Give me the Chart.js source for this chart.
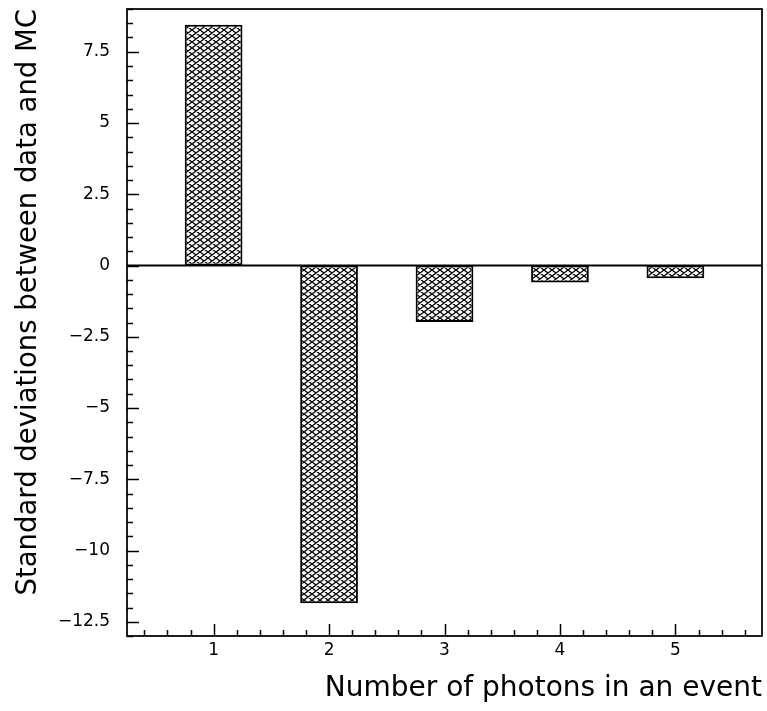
<!DOCTYPE html>
<html>
<head>
<meta charset="utf-8">
<script src="https://cdn.jsdelivr.net/npm/chart.js@4/dist/chart.umd.min.js"></script>
<style>
  body { margin: 0; background: #fff; }
  #wrap { width: 767px; height: 711px; }
</style>
</head>
<body>
<div id="wrap"><canvas id="devChart" width="767" height="711"></canvas></div>
<script>
// photon multiplicity and deviation (data - MC) in standard deviations
const photons = [1, 2, 3, 4, 5];
const deviations = [8.45, -11.85, -1.98, -0.6, -0.45];
const yTicks = [-12.5, -10, -7.5, -5, -2.5, 0, 2.5, 5, 7.5];
const xTicks = [1, 2, 3, 4, 5];

// cross hatch fill like the ROOT style
function hatch() {
  const c = document.createElement('canvas');
  c.width = 8; c.height = 6;
  const g = c.getContext('2d');
  g.fillStyle = '#fff';
  g.fillRect(0, 0, 8, 6);
  g.strokeStyle = '#000';
  g.lineWidth = 1.3;
  g.beginPath();
  for (let dx = -8; dx <= 8; dx += 8) {
    g.moveTo(dx, 0); g.lineTo(dx + 8, 6);
    g.moveTo(dx, 6); g.lineTo(dx + 8, 0);
  }
  g.stroke();
  return g.createPattern(c, 'repeat');
}

// frame, inner ticks and the zero line
const framePlugin = {
  id: 'frame',
  afterDatasetsDraw(chart) {
    const ctx = chart.ctx;
    const a = chart.chartArea;
    const xs = chart.scales.x, ys = chart.scales.y;
    ctx.save();
    ctx.strokeStyle = '#000';
    ctx.lineWidth = 1.5;
    // y ticks, minor every 0.5, major every 2.5
    for (let v = -13; v <= 9.001; v += 0.5) {
      const py = Math.round(ys.getPixelForValue(v)) + 0.5;
      const major = Math.abs(v / 2.5 - Math.round(v / 2.5)) < 1e-6;
      ctx.beginPath();
      ctx.moveTo(a.left, py);
      ctx.lineTo(a.left + (major ? 12 : 6), py);
      ctx.stroke();
    }
    // x ticks, minor every 0.2, major every 1
    for (let v = 0.4; v <= 5.75; v += 0.2) {
      const px = Math.round(xs.getPixelForValue(v)) + 0.5;
      const major = Math.abs(v - Math.round(v)) < 1e-6;
      ctx.beginPath();
      ctx.moveTo(px, a.bottom);
      ctx.lineTo(px, a.bottom - (major ? 12 : 6));
      ctx.stroke();
    }
    // zero line
    ctx.lineWidth = 2;
    const y0 = ys.getPixelForValue(0);
    ctx.beginPath();
    ctx.moveTo(a.left, y0);
    ctx.lineTo(a.right, y0);
    ctx.stroke();
    // frame
    ctx.lineWidth = 1.75;
    ctx.strokeRect(a.left, a.top, a.right - a.left, a.bottom - a.top);
    ctx.restore();
  }
};

const ctx = document.getElementById('devChart').getContext('2d');
new Chart(ctx, {
  type: 'bar',
  data: {
    datasets: [{
      data: photons.map((p, i) => ({ x: p, y: deviations[i] })),
      backgroundColor: hatch(),
      borderColor: '#000',
      borderWidth: 2,
      borderSkipped: false,
      barPercentage: 0.5,
      categoryPercentage: 1
    }]
  },
  options: {
    responsive: false,
    animation: false,
    layout: { padding: { top: 9, right: 5, left: 0, bottom: 0 } },
    plugins: { legend: { display: false }, tooltip: { enabled: false } },
    scales: {
      x: {
        type: 'linear',
        offset: false,
        min: 0.25,
        max: 5.75,
        afterBuildTicks: (s) => { s.ticks = xTicks.map(v => ({ value: v })); },
        afterFit: (s) => { s.height = 75; s.paddingLeft = 0; s.paddingRight = 0; },
        grid: { display: false, drawTicks: false },
        border: { display: false },
        ticks: {
          padding: 4,
          color: '#000',
          font: { family: 'DejaVu Sans', size: 17 },
          maxRotation: 0,
          callback: (v) => String(v)
        },
        title: {
          display: true,
          text: 'Number of photons in an event',
          align: 'end',
          color: '#000',
          font: { family: 'DejaVu Sans', size: 28 },
          padding: { top: 0, bottom: 5 }
        }
      },
      y: {
        min: -13,
        max: 9,
        afterBuildTicks: (s) => { s.ticks = yTicks.map(v => ({ value: v })); },
        afterFit: (s) => { s.width = 127; s.paddingTop = 0; s.paddingBottom = 0; },
        grid: { display: false, drawTicks: false },
        border: { display: false },
        ticks: {
          padding: 17,
          color: '#000',
          font: { family: 'DejaVu Sans', size: 17 },
          callback: (v) => String(v).replace('-', '\u2212')
        },
        title: {
          display: true,
          text: 'Standard deviations between data and MC',
          align: 'end',
          color: '#000',
          font: { family: 'DejaVu Sans', size: 27.5 },
          padding: { top: 12, bottom: 0 }
        }
      }
    }
  },
  plugins: [framePlugin]
});
</script>
</body>
</html>
